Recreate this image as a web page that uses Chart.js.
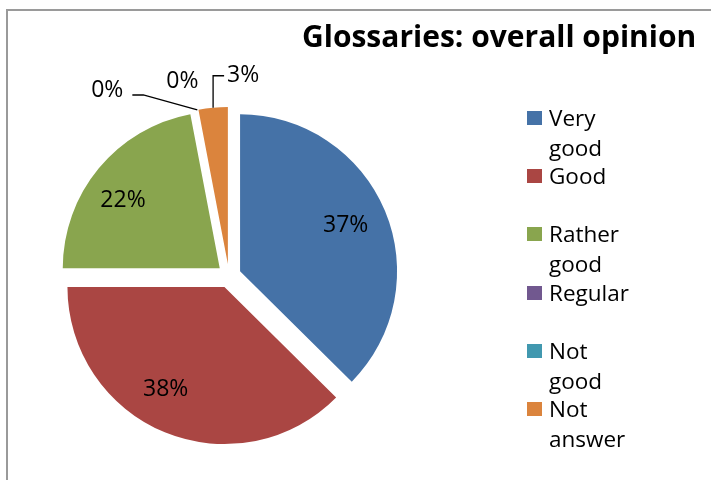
<!DOCTYPE html>
<html>
<head>
<meta charset="utf-8">
<script src="https://cdn.jsdelivr.net/npm/chart.js@4.4.0/dist/chart.umd.min.js"></script>
<style>
  body { margin: 0; background: #fff; }
  #wrap { position: relative; width: 711px; height: 480px; overflow: hidden; background: #fff; }
  #frame { position: absolute; left: 6px; top: 9px; width: 800px; height: 600px; border: 2px solid #9a9a9a; box-sizing: border-box; }
  #chart { position: absolute; left: 0; top: 0; }
  #title { position: absolute; left: 302px; top: 21px; font: bold 30px/30px "Open Sans", sans-serif; color: #000; white-space: nowrap; }
  .item { position: absolute; left: 527px; font: 22.5px/30px "Open Sans", sans-serif; color: #000; }
  .item .box { position: absolute; left: 0; top: 8px; width: 15px; height: 14px; }
  .item .txt { position: absolute; left: 22px; top: 0; white-space: nowrap; }
</style>
</head>
<body>
<div id="wrap">
  <div id="frame"></div>
  <canvas id="chart" width="711" height="480"></canvas>
  <div id="title">Glossaries: overall opinion</div>
  <div id="legend"></div>
</div>
<script>
const categories = ['Very good', 'Good', 'Rather good', 'Regular', 'Not good', 'Not answer'];
const shares = [37.4, 37.6, 22, 0, 0, 3];
const colors = ['#4572A7', '#AA4643', '#89A54E', '#71588F', '#4198AF', '#DB843D'];

// where the callout labels of the thin slices go, relative to the slice's outer edge
const callouts = {
  3: { elbow: [-54, -15], end: [-65, -15], text: [-74, -21], align: 'right' },
  4: { text: [-15, -30], align: 'center' },
  5: { elbow: [0, -32], end: [11, -32], text: [14, -34], align: 'left' },
};
// small "best fit" nudges for the labels that sit inside their slice
const insideNudge = { 0: [-3, -2], 1: [-14, -8], 2: [-6, 5] };

const EXPLODE = 12;
const LABEL_SIZE = 23;
const LABEL_FONT = LABEL_SIZE + 'px "Open Sans", sans-serif';

// push every slice out along its middle angle, like Excel's exploded pie
const explodePlugin = {
  id: 'explode',
  afterDatasetsUpdate(chart) {
    chart.getDatasetMeta(0).data.forEach((arc) => {
      const mid = (arc.startAngle + arc.endAngle) / 2;
      arc.x += Math.cos(mid) * EXPLODE;
      arc.y += Math.sin(mid) * EXPLODE;
    });
  },
};

const labelPlugin = {
  id: 'pctLabels',
  afterDatasetsDraw(chart) {
    const { ctx } = chart;
    const values = chart.data.datasets[0].data;
    const total = values.reduce((a, b) => a + b, 0);
    ctx.save();
    ctx.font = LABEL_FONT;
    ctx.fillStyle = '#000';
    ctx.strokeStyle = '#000';
    ctx.lineWidth = 1.3;
    ctx.textBaseline = 'alphabetic';
    const lift = LABEL_SIZE * 0.357;
    chart.getDatasetMeta(0).data.forEach((arc, i) => {
      const txt = Math.round(values[i] / total * 100) + '%';
      const mid = (arc.startAngle + arc.endAngle) / 2;
      const r = arc.outerRadius;
      const co = callouts[i];
      if (!co) {
        const n = insideNudge[i] || [0, 0];
        ctx.textAlign = 'center';
        ctx.fillText(txt, arc.x + Math.cos(mid) * r * 0.75 + n[0], arc.y + Math.sin(mid) * r * 0.75 + n[1] + lift);
        return;
      }
      const ax = arc.x + Math.cos(mid) * r;
      const ay = arc.y + Math.sin(mid) * r;
      if (co.elbow) {
        ctx.beginPath();
        ctx.moveTo(ax, ay);
        ctx.lineTo(ax + co.elbow[0], ay + co.elbow[1]);
        ctx.lineTo(ax + co.end[0], ay + co.end[1]);
        ctx.stroke();
      }
      ctx.textAlign = co.align;
      ctx.fillText(txt, ax + co.text[0], ay + co.text[1] + lift);
    });
    ctx.restore();
  },
};

const chart = new Chart(document.getElementById('chart'), {
  type: 'pie',
  data: {
    labels: categories,
    datasets: [{
      data: shares,
      backgroundColor: colors,
      borderWidth: 0,
    }],
  },
  options: {
    responsive: false,
    animation: false,
    events: [],
    devicePixelRatio: 1,
    radius: 157,
    layout: { padding: { left: 40, right: 293, top: 98, bottom: 26 } },
    plugins: {
      legend: { display: false },
      tooltip: { enabled: false },
      title: { display: false },
    },
  },
  plugins: [explodePlugin, labelPlugin],
});

// legend on the right, one word per line like the original
const legend = document.getElementById('legend');
chart.data.labels.forEach((label, i) => {
  const item = document.createElement('div');
  item.className = 'item';
  item.style.top = (103 + i * 58.2) + 'px';
  item.innerHTML = `<div class="box" style="background:${colors[i]}"></div>` +
    `<div class="txt">${label.split(' ').join('<br>')}</div>`;
  legend.appendChild(item);
});
</script>
</body>
</html>
